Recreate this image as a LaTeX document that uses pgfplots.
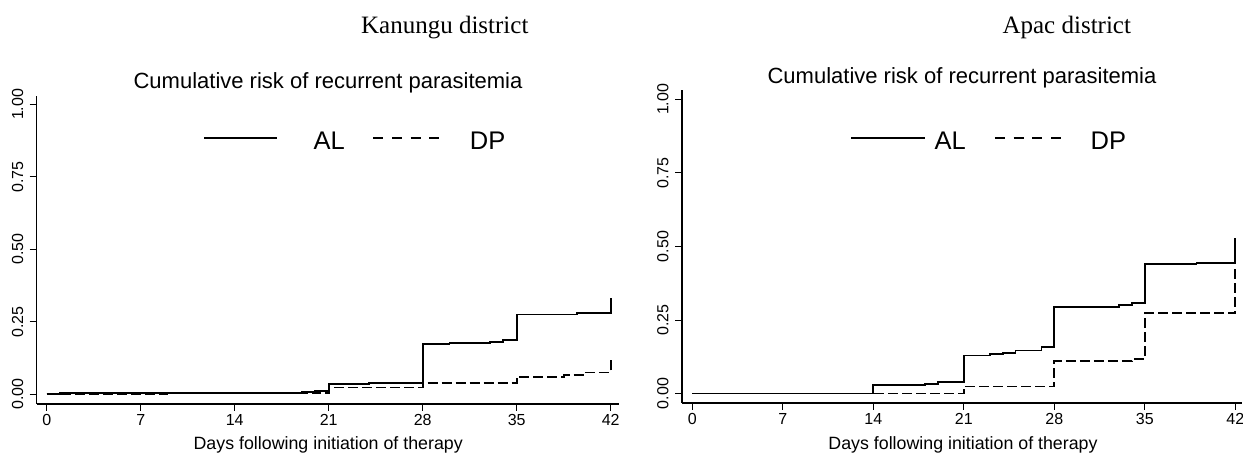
\documentclass[border=0pt]{standalone}
\usepackage{fontspec}
\setmainfont{Liberation Sans}
\newfontfamily\serif{Liberation Serif}
\usepackage{pgfplots}
\pgfplotsset{compat=1.18}

\pgfplotsset{
  km/.style={
    scale only axis,
    axis x line=bottom, axis y line=left,
    axis line style={-, line width=1.3pt},
    xtick={0,7,14,21,28,35,42},
    ytick={0,0.25,0.5,0.75,1},
    tick align=outside, major tick length=7pt,
    tick style={line width=0.9pt, black},
    /pgf/number format/assume math mode=true,
    tick label style={font=\fontsize{16}{19}\selectfont},
    yticklabel shift=3pt,
    yticklabel style={rotate=90, anchor=south,
      /pgf/number format/fixed, /pgf/number format/fixed zerofill,
      /pgf/number format/precision=2},
  },
  al/.style={const plot mark left, line width=1.8pt, black},
  dp/.style={const plot mark left, line width=1.8pt, black, dash pattern=on 10pt off 4pt},
}

\begin{document}
\begin{tikzpicture}
\path[use as bounding box] (0,0) rectangle (1243pt,455pt);

% Kanungu district
\begin{axis}[km,
  at={(36.7pt,51pt)}, anchor=south west,
  width=582.1pt, height=308.3pt,
  xmin=-0.745, xmax=42.6, ymin=-0.0336, ymax=1.0298,
]
\addplot[al] coordinates {
  (0,0) (1,0.003) (19,0.008) (20,0.011) (21,0.035) (24,0.040) (28,0.172)
  (30,0.176) (33,0.180) (34,0.187) (35,0.275) (39.5,0.281) (42,0.332)
};
\addplot[dp] coordinates {
  (0,0) (9,0.003) (20,0.005) (21,0.023) (28,0.038) (35,0.060)
  (38.5,0.066) (40,0.075) (42,0.123)
};
\end{axis}

% Apac district
\begin{axis}[km,
  at={(682.1pt,52pt)}, anchor=south west,
  width=559.7pt, height=313pt,
  xmin=-0.789, xmax=42.5, ymin=-0.0323, ymax=1.032,
]
\addplot[al] coordinates {
  (0,0) (14,0.028) (18,0.032) (19,0.038) (21,0.129) (23,0.133) (24,0.139)
  (25,0.146) (27,0.157) (28,0.293) (33,0.302) (34,0.309) (35,0.439)
  (39,0.445) (42,0.528)
};
\addplot[dp] coordinates {
  (0,0) (21,0.024) (28,0.110) (34,0.117) (35,0.273) (42,0.431)
};
\end{axis}

% legends
\draw[line width=1.8pt] (204.3pt,316.7pt) -- (277.3pt,316.7pt);
\draw[line width=1.8pt, dash pattern=on 10pt off 8.7pt] (373.3pt,316.7pt) -- (439.3pt,316.7pt);
\node[anchor=base west, inner sep=0pt, font=\fontsize{25.5}{30}\selectfont] at (313.3pt,305.6pt) {AL};
\node[anchor=base west, inner sep=0pt, font=\fontsize{25.5}{30}\selectfont] at (469.7pt,305.6pt) {DP};
\draw[line width=1.8pt] (851.3pt,316.7pt) -- (924.5pt,316.7pt);
\draw[line width=1.8pt, dash pattern=on 10pt off 8.7pt] (994.9pt,316.7pt) -- (1060.9pt,316.7pt);
\node[anchor=base west, inner sep=0pt, font=\fontsize{25.5}{30}\selectfont] at (934.3pt,305.6pt) {AL};
\node[anchor=base west, inner sep=0pt, font=\fontsize{25.5}{30}\selectfont] at (1090.5pt,305.6pt) {DP};

% titles and axis labels
\node[anchor=base, font=\fontsize{22}{26}\selectfont] at (328pt,366.7pt) {Cumulative risk of recurrent parasitemia};
\node[anchor=base, font=\fontsize{22}{26}\selectfont] at (962pt,371.8pt) {Cumulative risk of recurrent parasitemia};
\node[anchor=base, font=\serif\fontsize{25}{30}\selectfont] at (444.8pt,421.7pt) {Kanungu district};
\node[anchor=base, font=\serif\fontsize{25}{30}\selectfont] at (1066.8pt,421.7pt) {Apac district};
\node[anchor=base, font=\fontsize{17.8}{21}\selectfont] at (328.2pt,5pt) {Days following initiation of therapy};
\node[anchor=base, font=\fontsize{17.8}{21}\selectfont] at (963pt,5pt) {Days following initiation of therapy};
\end{tikzpicture}
\end{document}
